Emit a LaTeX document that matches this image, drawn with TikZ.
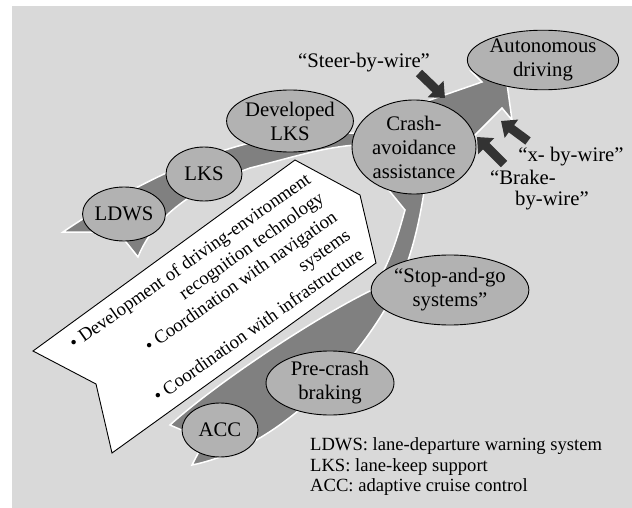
\documentclass[tikz,border=0pt]{standalone}
\usepackage{fontspec}
\setmainfont{Liberation Serif}
\usepackage{xcolor}
\usepackage{tikz}
\usetikzlibrary{shapes.geometric, arrows.meta, positioning}
\definecolor{backgray}{RGB}{217, 217, 217}
\definecolor{bandgray}{RGB}{128, 128, 128}
\definecolor{stagegray}{RGB}{178, 178, 178}
\definecolor{wiredark}{RGB}{51, 51, 51}

\begin{document}
\begin{tikzpicture}[
    x=1pt, y=-1pt,
    stage/.style={ellipse, draw=black, fill=stagegray, line width=0.9pt, inner sep=0pt,
                  align=center, font=\fontsize{20.7}{24}\selectfont},
    band/.style={fill=bandgray, draw=white, line width=1.5pt},
    wirearrow/.style={-{Triangle[width=22pt, length=13pt]}, line width=9pt, wiredark},
    wirelabel/.style={inner sep=0pt, font=\fontsize{20.7}{21}\selectfont},
    note/.style={inner sep=0pt, align=left, font=\fontsize{18.6}{20.5}\selectfont}
]

% Background
\useasboundingbox (0,0) rectangle (632,508);
\fill[backgray] (12,6) rectangle (632,508);

% Lateral band (LDWS -> autonomous driving)
\path[band] (63,232) .. controls (110,200) and (180,160) .. (250,143)
    .. controls (290,134) and (330,134) .. (355,133)
    .. controls (385,125) and (410,108) .. (430,100)
    -- (482,82) -- (472,72) -- (507,84) -- (512,120) -- (502,108) -- (473,137)
    .. controls (440,146) and (400,146) .. (355,145)
    .. controls (320,148) and (290,158) .. (250,168)
    .. controls (195,188) and (155,215) .. (138,257)
    -- (118,232) -- cycle;

% Longitudinal band (ACC -> crash avoidance)
\path[band] (170,425) .. controls (220,380) and (320,315) .. (372,290)
    .. controls (390,265) and (398,235) .. (405,210)
    -- (387,188) -- (420,158) -- (440,180) -- (424,192)
    .. controls (418,230) and (410,260) .. (398,285)
    .. controls (370,345) and (290,445) .. (192,465)
    -- (205,440) -- cycle;

% Technology chevron
\filldraw[fill=white, draw=black, line width=0.9pt]
    (295,160) -- (360,195) -- (376,263) -- (112,453) -- (96,384) -- (33,351) -- cycle;
\node[note, align=right, rotate=35.2, font=\fontsize{18.6}{23}\selectfont] (tech) at (216,298)
    {\textbullet\ Development of driving-environment\\
     recognition technology\\
     \textbullet\ Coordination with navigation\\
     systems\\
     \textbullet\ Coordination with infrastructure};

% Stages
\node[stage, minimum width=76, minimum height=54] (ldws) at (124,214) {LDWS};
\node[stage, minimum width=76, minimum height=54] (lks) at (204,174) {LKS};
\node[stage, minimum width=120, minimum height=62] (devlks) at (290,121) {Developed\\LKS};
\node[stage, minimum width=124, minimum height=94] (crash) at (414,147) {Crash-\\avoidance\\assistance};
\node[stage, minimum width=130, minimum height=56] (auto) at (543,60) {Autonomous\\driving};
\node[stage, minimum width=144, minimum height=70] (stopgo) at (450,290) {“Stop-and-go\\systems”};
\node[stage, minimum width=128, minimum height=64] (precrash) at (330,383) {Pre-crash\\braking};
\node[stage, minimum width=76, minimum height=54] (acc) at (220,430) {ACC};

% By-wire inputs
\coordinate (steertail) at (419,73);
\coordinate (steertip) at (445,98);
\coordinate (braketail) at (504,164);
\coordinate (braketip) at (477,137);
\coordinate (xtail) at (528,141);
\coordinate (xtip) at (501,121);

\draw[wirearrow] (steertail) -- (steertip);
\draw[wirearrow] (braketail) -- (braketip);
\draw[wirearrow] (xtail) -- (xtip);

\node[wirelabel] (steerlabel) at (364,63) {“Steer-by-wire”};
\node[wirelabel] (xlabel) at (571,157) {“x- by-wire”};
\node[wirelabel, align=left, anchor=west] (brakelabel) at (490,190) {“Brake-\\\hspace*{25pt}by-wire”};

% Legend
\node[note, anchor=west] (legend) at (310,467)
    {LDWS: lane-departure warning system\\
     LKS: lane-keep support\\
     ACC: adaptive cruise control};

\end{tikzpicture}
\end{document}
